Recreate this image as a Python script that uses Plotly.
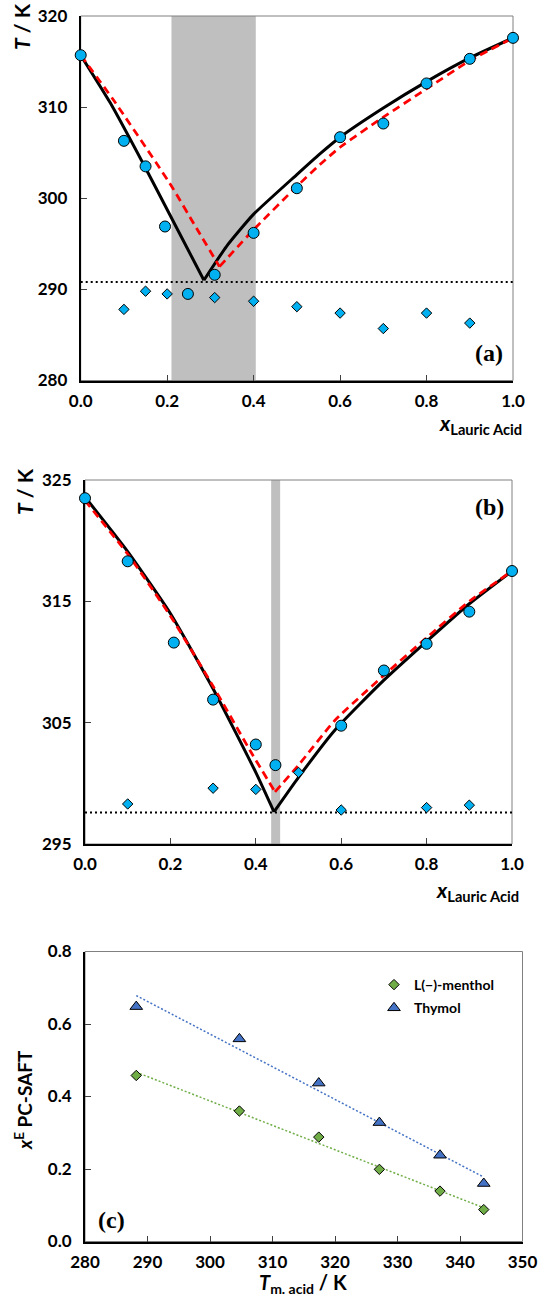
import numpy as np
import plotly.graph_objects as go

W, H = 543, 1299

# ---------------- panel (a): lauric acid + L(-)-menthol ----------------
xa_liq = [0.0, 0.1, 0.15, 0.195, 0.248, 0.31, 0.4, 0.5, 0.6, 0.7, 0.8, 0.9, 1.0]
Ta_liq = [315.7, 306.3, 303.5, 296.9, 289.5, 291.6, 296.2, 301.1, 306.7, 308.2, 312.6, 315.3, 317.6]
xa_sol = [0.1, 0.15, 0.2, 0.31, 0.4, 0.5, 0.6, 0.7, 0.8, 0.9]
Ta_sol = [287.8, 289.8, 289.5, 289.1, 288.7, 288.1, 287.4, 285.7, 287.4, 286.3]
Ta_eut = 290.8
band_a = [0.21, 0.405]

# ideal-solution curve (solid) and PC-SAFT curve (dashed), left and right branches
xa_ideal_L = [0.0, 0.068, 0.149, 0.205, 0.285]
Ta_ideal_L = [315.7, 310.5, 303.4, 298.3, 291.0]
xa_ideal_R = [0.285, 0.337, 0.399, 0.5, 0.554, 0.6, 0.7, 0.8, 0.9, 1.0]
Ta_ideal_R = [291.0, 294.7, 298.2, 302.6, 304.9, 306.7, 309.9, 312.8, 315.4, 317.6]
xa_saft_L = [0.0, 0.0755, 0.2066, 0.268, 0.321]
Ta_saft_L = [315.7, 310.8, 301.6, 296.7, 292.5]
xa_saft_R = [0.321, 0.399, 0.5, 0.5536, 0.6, 0.7, 0.8, 0.9, 1.0]
Ta_saft_R = [292.5, 296.5, 301.3, 303.7, 305.6, 308.9, 312.0, 315.1, 317.6]

# ---------------- panel (b): lauric acid + thymol ----------------
xb_liq = [0.0, 0.1, 0.208, 0.3, 0.4, 0.446, 0.6, 0.7, 0.8, 0.9, 1.0]
Tb_liq = [323.5, 318.3, 311.6, 306.9, 303.2, 301.5, 304.75, 309.3, 311.5, 314.15, 317.5]
xb_sol = [0.1, 0.3, 0.4, 0.5, 0.6, 0.8, 0.9]
Tb_sol = [298.3, 299.6, 299.5, 300.9, 297.8, 298.0, 298.2]
Tb_eut = 297.6
band_b = [0.436, 0.457]

xb_ideal_L = [0.0, 0.1, 0.2, 0.3, 0.4, 0.4426]
Tb_ideal_L = [323.6, 319.1, 314.0, 307.8, 300.9, 297.65]
xb_ideal_R = [0.4426, 0.5, 0.5855, 0.7, 0.8, 0.9, 1.0]
Tb_ideal_R = [297.65, 300.5, 304.4, 308.5, 311.7, 314.8, 317.5]
xb_saft_L = [0.0, 0.1, 0.2, 0.3, 0.39, 0.445]
Tb_saft_L = [323.3, 318.9, 313.8, 308.0, 302.5, 299.3]
xb_saft_R = [0.445, 0.5, 0.5855, 0.7, 0.8, 0.9, 1.0]
Tb_saft_R = [299.3, 301.5, 305.2, 308.9, 312.0, 315.0, 317.5]

# ---------------- panel (c): eutectic composition vs acid melting point ----------------
Tm_acid = [288.2, 304.7, 317.4, 327.1, 336.8, 343.8]
xE_menthol = [0.458, 0.360, 0.288, 0.199, 0.139, 0.088]
xE_thymol = [0.648, 0.559, 0.437, 0.328, 0.238, 0.160]

SKY = "#00B0F0"
GREEN = "#70AD47"
BLUE = "#4472C4"
FONT = "Lato"


def px(x):
    return x / W


def py(y):
    return 1 - y / H


fig = go.Figure()


def phase_panel(xa, ya, x_liq, T_liq, x_sol, T_sol, T_eut, branches_ideal, branches_saft):
    # eutectic line
    fig.add_trace(go.Scatter(x=[0, 1], y=[T_eut, T_eut], xaxis=xa, yaxis=ya, mode="lines",
                             line=dict(color="black", width=2, dash="2px,3px"),
                             showlegend=False, hoverinfo="skip"))
    for xs, ts in branches_ideal:
        fig.add_trace(go.Scatter(x=xs, y=ts, xaxis=xa, yaxis=ya, mode="lines",
                                 line=dict(color="black", width=3, shape="spline", smoothing=0.5),
                                 showlegend=False))
    for xs, ts in branches_saft:
        fig.add_trace(go.Scatter(x=xs, y=ts, xaxis=xa, yaxis=ya, mode="lines",
                                 line=dict(color="#FF0000", width=2.75, dash="8px,5px",
                                           shape="spline", smoothing=0.5),
                                 showlegend=False))
    fig.add_trace(go.Scatter(x=x_sol, y=T_sol, xaxis=xa, yaxis=ya, mode="markers",
                             marker=dict(symbol="diamond", size=8, color=SKY,
                                         line=dict(color="black", width=1)),
                             cliponaxis=False, showlegend=False))
    fig.add_trace(go.Scatter(x=x_liq, y=T_liq, xaxis=xa, yaxis=ya, mode="markers",
                             marker=dict(symbol="circle", size=11, color=SKY,
                                         line=dict(color="black", width=1)),
                             cliponaxis=False, showlegend=False))


phase_panel("x", "y", xa_liq, Ta_liq, xa_sol, Ta_sol, Ta_eut,
            [(xa_ideal_L, Ta_ideal_L), (xa_ideal_R, Ta_ideal_R)],
            [(xa_saft_L, Ta_saft_L), (xa_saft_R, Ta_saft_R)])
phase_panel("x2", "y2", xb_liq, Tb_liq, xb_sol, Tb_sol, Tb_eut,
            [(xb_ideal_L, Tb_ideal_L), (xb_ideal_R, Tb_ideal_R)],
            [(xb_saft_L, Tb_saft_L), (xb_saft_R, Tb_saft_R)])

# panel (c): linear trend lines and points
t_ends = np.array([min(Tm_acid), max(Tm_acid)])
for vals, col in ((xE_menthol, GREEN), (xE_thymol, BLUE)):
    k, b = np.polyfit(Tm_acid, vals, 1)
    fig.add_trace(go.Scatter(x=t_ends, y=k * t_ends + b, xaxis="x3", yaxis="y3", mode="lines",
                             line=dict(color=col, width=1.5, dash="2px,2px"),
                             showlegend=False, hoverinfo="skip"))
fig.add_trace(go.Scatter(x=Tm_acid, y=xE_menthol, xaxis="x3", yaxis="y3", mode="markers",
                         name="<b>L(\u2212)-menthol</b>", legendgroup="m",
                         marker=dict(symbol="diamond", size=8, color=GREEN,
                                     line=dict(color="black", width=1))))
fig.add_trace(go.Scatter(x=Tm_acid, y=xE_thymol, xaxis="x3", yaxis="y3", mode="markers",
                         name="<b>Thymol</b>", legendgroup="t",
                         marker=dict(symbol="triangle-up", size=11, color=BLUE,
                                     line=dict(color="black", width=1))))

tickfont = dict(family=FONT, size=17, color="black")
axis_common = dict(showgrid=False, zeroline=False, showline=True, linecolor="black",
                   linewidth=2, ticks="inside", ticklen=6, tickwidth=1, tickcolor="#404040",
                   tickfont=tickfont, tickprefix="<b>", ticksuffix="</b>",
                   layer="below traces", automargin=False)

fig.update_layout(
    template="none",
    width=W, height=H, margin=dict(l=0, r=0, t=0, b=0, pad=0, autoexpand=False),
    paper_bgcolor="white", plot_bgcolor="white",
    xaxis=dict(domain=[px(80.7), px(513)], anchor="y", range=[0, 1], tick0=0, dtick=0.2,
               tickformat=".1f", ticklabelstandoff=4, **axis_common),
    yaxis=dict(domain=[py(380.5), py(16)], anchor="x", range=[280, 320], tick0=280, dtick=10,
               ticklabelstandoff=8, **axis_common),
    xaxis2=dict(domain=[px(85), px(512)], anchor="y2", range=[0, 1], tick0=0, dtick=0.2,
                tickformat=".1f", ticklabelstandoff=4, **axis_common),
    yaxis2=dict(domain=[py(844), py(480)], anchor="x2", range=[295, 325], tick0=295, dtick=10,
                ticklabelstandoff=8, **axis_common),
    xaxis3=dict(domain=[px(85), px(522.5)], anchor="y3", range=[280, 350], tick0=280, dtick=10,
                ticklabelstandoff=4, **axis_common),
    yaxis3=dict(domain=[py(1241.5), py(951.5)], anchor="x3", range=[0, 0.8], tick0=0, dtick=0.2,
                tickformat=".1f", ticklabelstandoff=8, **axis_common),
    legend=dict(x=px(374), y=py(969), xanchor="left", yanchor="top", bgcolor="rgba(0,0,0,0)",
                borderwidth=0, font=dict(family=FONT, size=14, color="black"),
                traceorder="grouped", tracegroupgap=2),
)

shapes = []
for xr, yr, band in (("x", "y", band_a), ("x2", "y2", band_b)):
    shapes.append(dict(type="rect", xref=xr, yref=yr + " domain", x0=band[0], x1=band[1],
                       y0=0, y1=1, fillcolor="#BFBFBF", line=dict(width=0), layer="below"))
for xr, yr in (("x", "y"), ("x2", "y2"), ("x3", "y3")):
    shapes.append(dict(type="rect", xref=xr + " domain", yref=yr + " domain", x0=0, x1=1,
                       y0=0, y1=1, line=dict(color="#808080", width=1), layer="below"))
fig.update_layout(shapes=shapes)


def label(text, x, y, size, family=FONT, angle=0, xanchor="center"):
    return dict(text=text, x=px(x), y=py(y), xref="paper", yref="paper", showarrow=False,
                xanchor=xanchor, yanchor="middle", textangle=angle,
                font=dict(family=family, size=size, color="black"))


sub_title = "<b><i>x</i></b><b><sub>Lauric Acid</sub></b>"
ann = [
    label("<b><i>T</i> / K</b>", 21, 27, 21, angle=-90),
    label("<b><i>T</i> / K</b>", 24, 492, 21, angle=-90),
    label(sub_title, 524, 424, 21, xanchor="right"),
    label(sub_title, 521, 891, 21, xanchor="right"),
    label("<b><i>x</i><sup>E</sup> PC-SAFT</b>", 23, 1100, 19, angle=-90),
    label("<b><i>T</i><sub>m. acid</sub> / K</b>", 303, 1283, 20),
    label("<b>(a)</b>", 489, 353, 24, family="Liberation Serif"),
    label("<b>(b)</b>", 489, 507, 24, family="Liberation Serif"),
    label("<b>(c)</b>", 111, 1220, 24, family="Liberation Serif"),
]
fig.update_layout(annotations=ann)

fig.write_html("out.html")
